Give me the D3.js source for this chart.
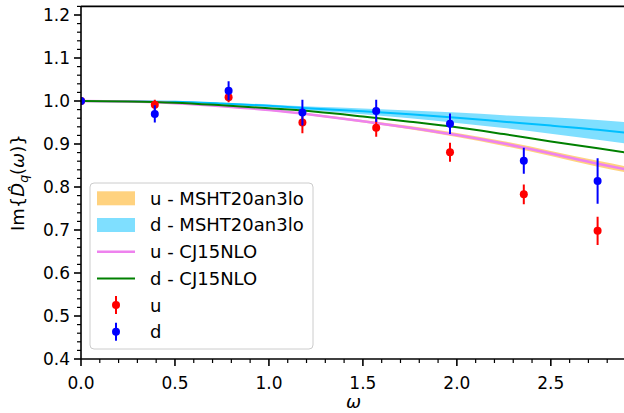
<!DOCTYPE html>
<html>
<head>
<meta charset="utf-8">
<script src="https://cdn.jsdelivr.net/npm/d3@7"></script>
<style>
html,body{margin:0;padding:0;background:#fff;}
svg{display:block;font-family:"DejaVu Sans",sans-serif;}
</style>
</head>
<body>
<svg id="chart" width="624" height="413"></svg>
<script>
// ---- data ----
const omegaPts = [0, 0.3927, 0.7854, 1.1781, 1.5708, 1.9635, 2.3562, 2.7489];
const uVals = [1.000, 0.991, 1.009, 0.950, 0.938, 0.881, 0.783, 0.698];
const uErr  = [0.000, 0.012, 0.012, 0.025, 0.021, 0.022, 0.023, 0.033];
const dVals = [1.000, 0.970, 1.024, 0.973, 0.977, 0.947, 0.861, 0.814];
const dErr  = [0.000, 0.020, 0.022, 0.030, 0.026, 0.024, 0.030, 0.053];

const omegaGrid = [0, 0.25, 0.5, 0.75, 1.0, 1.25, 1.5, 1.75, 2.0, 2.25, 2.5, 2.75, 2.9];
const uCJ15  = [1.000, 0.999, 0.995, 0.988, 0.979, 0.967, 0.953, 0.938, 0.921, 0.901, 0.878, 0.854, 0.841];
const dCJ15  = [1.000, 0.999, 0.996, 0.990, 0.983, 0.975, 0.964, 0.952, 0.939, 0.923, 0.906, 0.890, 0.880];
const uMSHTlo = [1.000, 0.9989, 0.9946, 0.9872, 0.9775, 0.9648, 0.950, 0.9342, 0.9164, 0.8956, 0.872, 0.8472, 0.8338];
const uMSHThi = [1.000, 0.9991, 0.9954, 0.9888, 0.9805, 0.9692, 0.956, 0.9418, 0.9256, 0.9064, 0.884, 0.8608, 0.8482];
const dMSHT   = [1.000, 0.9995, 0.998, 0.994, 0.989, 0.982, 0.976, 0.969, 0.961, 0.952, 0.943, 0.933, 0.926];
const dMSHTlo = [1.000, 0.9993, 0.9972, 0.9922, 0.986, 0.9773, 0.9692, 0.960, 0.949, 0.937, 0.924, 0.910, 0.901];
const dMSHThi = [1.000, 0.9997, 0.9988, 0.9958, 0.992, 0.9867, 0.9828, 0.978, 0.973, 0.967, 0.962, 0.956, 0.951];

const xMajor = [0, 0.5, 1.0, 1.5, 2.0, 2.5];
const yMajor = [0.4, 0.5, 0.6, 0.7, 0.8, 0.9, 1.0, 1.1, 1.2];
const legendLabels = ["u - MSHT20an3lo", "d - MSHT20an3lo", "u - CJ15NLO", "d - CJ15NLO", "u", "d"];

// ---- layout ----
const L = 81, R = 626, T = 6.4, B = 359;
const svg = d3.select("#chart");
const x = d3.scaleLinear().domain([0, 2.9]).range([L, R]);
const y = d3.scaleLinear().domain([0.4, 1.22]).range([B, T]);

svg.append("defs").append("clipPath").attr("id","clip")
  .append("rect").attr("x",L).attr("y",T).attr("width",R-L).attr("height",B-T);

const plot = svg.append("g").attr("clip-path","url(#clip)");

const grid = omegaGrid.map((w,i)=>i);
const area = (lo,hi)=>d3.area().x(i=>x(omegaGrid[i])).y0(i=>y(lo[i])).y1(i=>y(hi[i])).curve(d3.curveMonotoneX);
const line = (v)=>d3.line().x(i=>x(omegaGrid[i])).y(i=>y(v[i])).curve(d3.curveMonotoneX);

plot.append("path").attr("d", area(uMSHTlo,uMSHThi)(grid)).attr("fill","#ffa500").attr("fill-opacity",0.5);
plot.append("path").attr("d", area(dMSHTlo,dMSHThi)(grid)).attr("fill","#00bfff").attr("fill-opacity",0.5);
plot.append("path").attr("d", line(dMSHT)(grid)).attr("fill","none").attr("stroke","#00bfff").attr("stroke-width",2);
plot.append("path").attr("d", line(uCJ15)(grid)).attr("fill","none").attr("stroke","violet").attr("stroke-width",2.5);
plot.append("path").attr("d", line(dCJ15)(grid)).attr("fill","none").attr("stroke","green").attr("stroke-width",2);

function errPts(vals, errs, color){
  const g = plot.append("g");
  omegaPts.forEach((w,i)=>{
    if (errs[i] > 0) g.append("line").attr("x1",x(w)).attr("x2",x(w))
      .attr("y1",y(vals[i]-errs[i])).attr("y2",y(vals[i]+errs[i]))
      .attr("stroke",color).attr("stroke-width",2);
    g.append("circle").attr("cx",x(w)).attr("cy",y(vals[i])).attr("r",4).attr("fill",color);
  });
}
errPts(uVals, uErr, "red");
errPts(dVals, dErr, "blue");

// ---- axes ----
const ax = svg.append("g").attr("stroke","#000");
ax.append("line").attr("x1",L).attr("x2",R).attr("y1",B).attr("y2",B).attr("stroke-width",1.6);
ax.append("line").attr("x1",L).attr("x2",L).attr("y1",T).attr("y2",B).attr("stroke-width",1.6);
ax.append("line").attr("x1",L).attr("x2",R).attr("y1",T).attr("y2",T).attr("stroke-width",1.6);

const xMinor = d3.range(0, 29).map(i=>i/10).filter(v=>Math.abs(v*2-Math.round(v*2))>1e-6);
const yMinor = d3.range(20, 62).map(i=>i/50).filter(v=>Math.abs(v*10-Math.round(v*10))>1e-6 && v<=1.22);

xMajor.forEach(v=>{
  ax.append("line").attr("x1",x(v)).attr("x2",x(v)).attr("y1",B).attr("y2",B+7).attr("stroke-width",1.6);
  svg.append("text").attr("x",x(v)).attr("y",B+30).attr("text-anchor","middle")
    .attr("font-size",17).attr("fill","#000").text(v.toFixed(1));
});
xMinor.forEach(v=>{
  ax.append("line").attr("x1",x(v)).attr("x2",x(v)).attr("y1",B).attr("y2",B+4).attr("stroke-width",1.2);
});
yMajor.forEach(v=>{
  ax.append("line").attr("x1",L-7).attr("x2",L).attr("y1",y(v)).attr("y2",y(v)).attr("stroke-width",1.6);
  svg.append("text").attr("x",L-11).attr("y",y(v)).attr("dy","0.36em").attr("text-anchor","end")
    .attr("font-size",17).attr("fill","#000").text(v.toFixed(1));
});
yMinor.forEach(v=>{
  ax.append("line").attr("x1",L-4).attr("x2",L).attr("y1",y(v)).attr("y2",y(v)).attr("stroke-width",1.2);
});

// axis labels
svg.append("text").attr("x",(L+R)/2).attr("y",408).attr("text-anchor","middle")
  .attr("font-size",18).attr("font-style","italic").text("ω");

const yl = svg.append("text").attr("transform",`translate(24,${(T+B)/2}) rotate(-90)`)
  .attr("text-anchor","middle").attr("font-size",18);
yl.append("tspan").text("Im{");
yl.append("tspan").attr("font-style","italic").text("D\u0302");
yl.append("tspan").attr("font-style","italic").attr("font-size",12.5).attr("dy",4).text("q");
yl.append("tspan").attr("dy",-4).text("(");
yl.append("tspan").attr("font-style","italic").text("ω");
yl.append("tspan").text(")}");

// ---- legend ----
const lg = svg.append("g");
lg.append("rect").attr("x",90).attr("y",183).attr("width",223).attr("height",166)
  .attr("rx",4).attr("fill","#fff").attr("fill-opacity",0.8).attr("stroke","#cccccc").attr("stroke-width",1);
const rowY = i => 198.3 + i*26.7;
lg.append("rect").attr("x",97).attr("y",rowY(0)-7).attr("width",38).attr("height",14).attr("fill","#ffa500").attr("fill-opacity",0.5);
lg.append("rect").attr("x",97).attr("y",rowY(1)-7).attr("width",38).attr("height",14).attr("fill","#00bfff").attr("fill-opacity",0.5);
lg.append("line").attr("x1",97).attr("x2",135).attr("y1",rowY(2)).attr("y2",rowY(2)).attr("stroke","violet").attr("stroke-width",2.5);
lg.append("line").attr("x1",97).attr("x2",135).attr("y1",rowY(3)).attr("y2",rowY(3)).attr("stroke","green").attr("stroke-width",2);
[["red",4],["blue",5]].forEach(([c,i])=>{
  lg.append("line").attr("x1",116).attr("x2",116).attr("y1",rowY(i)-9).attr("y2",rowY(i)+9).attr("stroke",c).attr("stroke-width",2);
  lg.append("circle").attr("cx",116).attr("cy",rowY(i)).attr("r",4).attr("fill",c);
});
legendLabels.forEach((t,i)=>{
  lg.append("text").attr("x",150).attr("y",rowY(i)).attr("dy","0.36em").attr("font-size",18).attr("fill","#000").text(t);
});
</script>
</body>
</html>
